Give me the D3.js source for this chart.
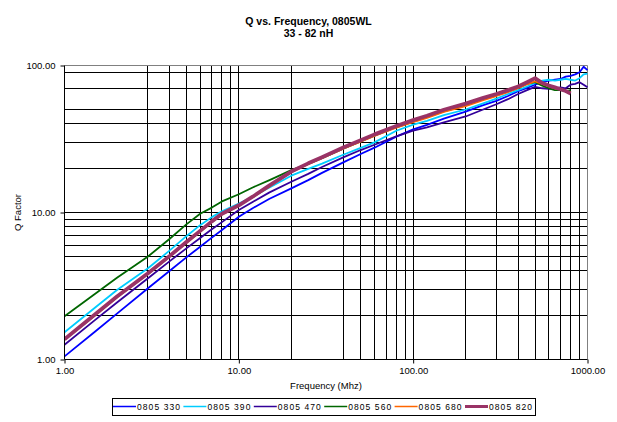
<!DOCTYPE html>
<html>
<head>
<meta charset="utf-8">
<script src="https://cdn.jsdelivr.net/npm/d3@7/dist/d3.min.js"></script>
<style>
  html, body { margin: 0; padding: 0; background: #fff; }
  svg { display: block; font-family: "Liberation Sans", Arial, sans-serif; }
</style>
</head>
<body>
<svg id="chart" width="617" height="422"></svg>
<script>
// ---------- data ----------
const titleText = "Q vs. Frequency, 0805WL";
const subtitleText = "33 - 82 nH";
const xTitle = "Frequency (Mhz)";
const yTitle = "Q Factor";

const freqMHz = [1, 1.5, 2, 3, 4, 5, 6, 7, 8, 10, 12, 15, 20, 25, 30, 40, 50, 60, 80, 100,
  120, 150, 200, 250, 300, 350, 400, 450, 500, 550, 600, 650, 700, 750, 800, 850, 900, 950, 1000];

const seriesNames = ["0805 330", "0805 390", "0805 470", "0805 560", "0805 680", "0805 820"];

const q330 = [1.05, 1.55, 2.05, 3.04, 4.0, 4.95, 5.85, 6.75, 7.6, 9.35, 10.7, 12.4, 14.6, 16.6, 18.6, 22.0, 25.0, 27.6, 32.8, 36.8,
  39.5, 43.5, 48.5, 53.5, 57.5, 62, 67, 70.5, 74, 77, 79, 80, 81, 84, 85, 87, 90, 98, 93];
const q390 = [1.53, 2.26, 2.97, 4.16, 5.5, 6.9, 8.2, 9.3, 10.2, 11.5, 12.8, 14.8, 17.8, 19.8, 21.5, 24.8, 27.5, 30.0, 36.0, 39.6,
  42, 46, 50.2, 55, 59.5, 64, 68, 72, 76, 79, 80, 79, 80, 81, 80, 79, 82, 87, 88];
const q470 = [1.26, 1.86, 2.44, 3.56, 4.65, 5.7, 6.7, 7.7, 8.6, 10.4, 11.8, 13.7, 16.2, 18.3, 20.4, 23.8, 26.6, 28.9, 33.0, 36.0,
  38.0, 41.0, 45.0, 50.0, 54.5, 59.0, 64.0, 68.0, 71.5, 70, 69.5, 70, 71, 70, 74, 75, 77, 74, 71];
const q560 = [1.97, 2.8, 3.6, 5.0, 6.6, 8.3, 9.8, 10.8, 11.9, 13.3, 14.8, 16.6, 19.4, 21.4, 23.4, 27.3, 30.4, 33.3, 38.0, 41.5,
  44.5, 48.8, 53.5, 58.5, 62.5, 66.5, 70.5, 75, 77, 73, 70, 68, 68, 67, 68, null, null, null, null];
const q680 = [1.36, 2.0, 2.65, 3.8, 5.0, 6.2, 7.4, 8.6, 9.7, 11.1, 12.7, 15.0, 18.8, 21.3, 23.4, 27.3, 30.3, 33.2, 37.8, 41.2,
  44.0, 48.3, 53.0, 58.0, 62.0, 66.0, 70.0, 74.5, 78, 75, 72, 70, 69, 67, 66, null, null, null, null];
const q820 = [1.37, 2.03, 2.68, 3.85, 5.05, 6.3, 7.5, 8.7, 9.8, 11.2, 12.8, 15.3, 19.0, 21.6, 23.8, 27.8, 31.0, 34.0, 38.8, 42.5,
  45.5, 50, 55, 60, 64, 68, 72, 77, 82, 76, 73, 71, 69, 67, 64.5, null, null, null, null];

const xTickValues = [1, 10, 100, 1000];
const yTickValues = [1, 10, 100];
const xGridValues = [3, 4, 5, 6, 7, 8, 9, 10, 20, 40, 50, 60, 70, 80, 90, 100, 200, 300, 400, 500, 600, 700, 800, 900];
const yGridValues = [2, 3, 4, 5, 6, 7, 8, 9, 10, 20, 30, 40, 50, 70, 90];

// ---------- styles ----------
const seriesColors = ["#0000FF", "#00CCFF", "#330099", "#006600", "#FF6600", "#993366"];
const seriesWidths = [1.8, 1.8, 1.8, 1.8, 1.8, 3.8];

// ---------- layout ----------
const plot = { left: 64.5, right: 587.5, top: 65.5, bottom: 359.5 };
const svg = d3.select("#chart");

const x = d3.scaleLog().domain([1, 1000]).range([plot.left, plot.right]);
const y = d3.scaleLog().domain([1, 100]).range([plot.bottom, plot.top]);

const fmt = d3.format(".2f");

// grid
const grid = svg.append("g");
grid.selectAll("line.vg").data(xGridValues).join("line")
  .attr("x1", d => Math.round(x(d) - 0.5) + 0.5).attr("x2", d => Math.round(x(d) - 0.5) + 0.5)
  .attr("y1", plot.top).attr("y2", plot.bottom)
  .attr("stroke", "#000").attr("stroke-width", 1);
grid.selectAll("line.hg").data(yGridValues).join("line")
  .attr("y1", d => Math.round(y(d) - 0.5) + 0.5).attr("y2", d => Math.round(y(d) - 0.5) + 0.5)
  .attr("x1", plot.left).attr("x2", plot.right)
  .attr("stroke", "#000").attr("stroke-width", 1);

// plot border (top/right gray)
svg.append("path")
  .attr("d", `M${plot.left},${plot.top}H${plot.right}V${plot.bottom}`)
  .attr("fill", "none").attr("stroke", "#808080").attr("stroke-width", 1);

// series
const seriesData = [q330, q390, q470, q560, q680, q820];
const line = d3.line()
  .defined(d => d[1] != null)
  .x(d => x(d[0]))
  .y(d => y(d[1]));
const clip = svg.append("clipPath").attr("id", "clip").append("rect")
  .attr("x", plot.left).attr("y", plot.top - 2).attr("width", plot.right - plot.left + 3).attr("height", plot.bottom - plot.top + 2);
const sg = svg.append("g").attr("clip-path", "url(#clip)");
seriesData.forEach((vals, i) => {
  sg.append("path")
    .datum(freqMHz.map((f, j) => [f, vals[j]]))
    .attr("d", line)
    .attr("fill", "none")
    .attr("stroke", seriesColors[i])
    .attr("stroke-width", seriesWidths[i])
    .attr("stroke-linejoin", "round");
});

// axes
const xAxis = d3.axisBottom(x).tickValues(xTickValues).tickFormat(fmt).tickSizeInner(4).tickSizeOuter(0).tickPadding(4);
const yAxis = d3.axisLeft(y).tickValues(yTickValues).tickFormat(fmt).tickSizeInner(4).tickSizeOuter(0).tickPadding(5);

const gx = svg.append("g").attr("transform", `translate(0,${plot.bottom})`).call(xAxis);
const gy = svg.append("g").attr("transform", `translate(${plot.left},0)`).call(yAxis);
[gx, gy].forEach(g => {
  g.select(".domain").attr("stroke", "#000").attr("stroke-width", 1);
  g.selectAll(".tick line").attr("stroke", "#000");
  g.selectAll(".tick text").attr("fill", "#000").attr("font-size", "9.5px")
    .attr("font-family", "'Liberation Sans', Arial, sans-serif");
});
gx.select(".domain").attr("d", `M${plot.left},0H${plot.right}`);
gy.select(".domain").attr("d", `M0,${plot.top}V${plot.bottom}`);

// titles
svg.append("text").attr("x", 308.5).attr("y", 24.5).attr("text-anchor", "middle")
  .attr("font-size", "10.5px").attr("font-weight", "bold").text(titleText);
svg.append("text").attr("x", 308.5).attr("y", 37).attr("text-anchor", "middle")
  .attr("font-size", "10.5px").attr("font-weight", "bold").text(subtitleText);
svg.append("text").attr("x", (plot.left + plot.right) / 2).attr("y", 389).attr("text-anchor", "middle")
  .attr("font-size", "9.5px").text(xTitle);
svg.append("text").attr("transform", `translate(21,${(plot.top + plot.bottom) / 2}) rotate(-90)`)
  .attr("text-anchor", "middle").attr("font-size", "9.5px").text(yTitle);

// legend
const legend = svg.append("g");
legend.append("rect").attr("x", 112.5).attr("y", 398.5).attr("width", 423).attr("height", 17)
  .attr("fill", "#fff").attr("stroke", "#000").attr("stroke-width", 1);
seriesNames.forEach((name, i) => {
  const lx = 113 + i * 70.4;
  legend.append("line").attr("x1", lx).attr("x2", lx + 23).attr("y1", 406.5).attr("y2", 406.5)
    .attr("stroke", seriesColors[i]).attr("stroke-width", i === 5 ? 3 : 1.5);
  legend.append("text").attr("x", lx + 24).attr("y", 410).attr("font-size", "8.5px")
    .attr("textLength", 43).attr("lengthAdjust", "spacing").text(name);
});
</script>
</body>
</html>
